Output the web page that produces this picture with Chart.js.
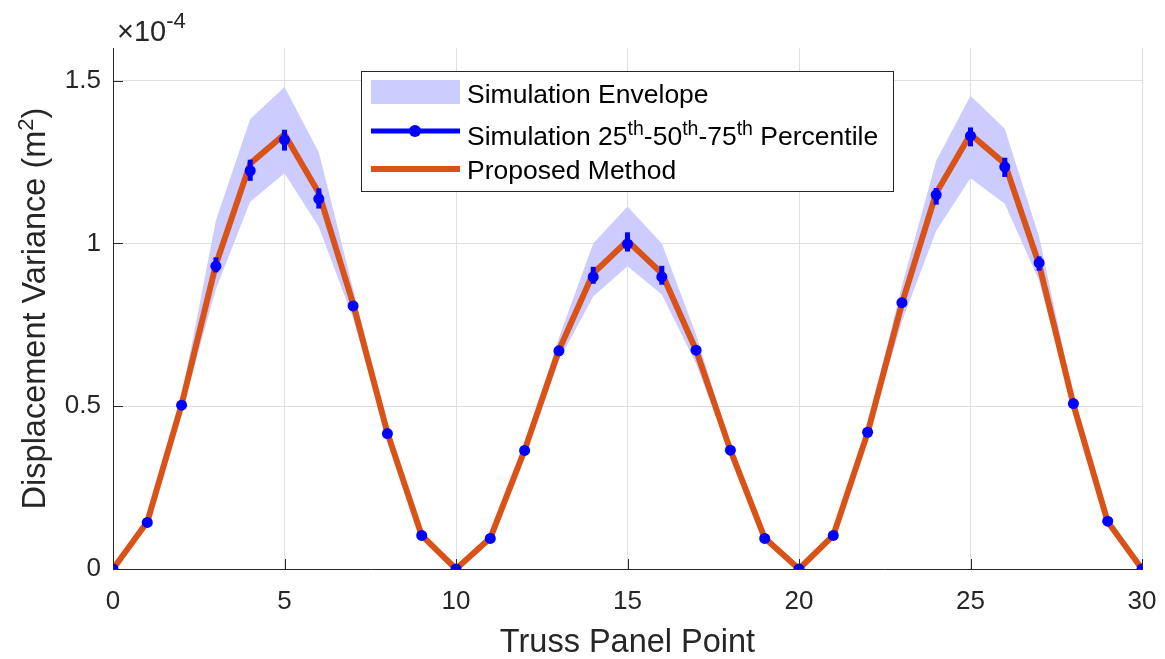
<!DOCTYPE html>
<html lang="en">
<head>
<meta charset="UTF-8">
<title>Displacement Variance</title>
<script src="https://cdn.jsdelivr.net/npm/chart.js"></script>
<style>
    body { margin: 0; background: #fff; }
    #wrap { width: 1165px; height: 659px; }
</style>
</head>
<body>
<div id="wrap"><canvas id="chart" width="1165" height="659"></canvas></div>
<script>
// all values in units of 1e-4 m^2
const panelPoints = [0, 1, 2, 3, 4, 5, 6, 7, 8, 9, 10, 11, 12, 13, 14, 15, 16, 17, 18, 19, 20, 21, 22, 23, 24, 25, 26, 27, 28, 29, 30];
const proposed = [0, 0.145, 0.505, 0.935, 1.245, 1.335, 1.155, 0.815, 0.418, 0.103, 0, 0.095, 0.365, 0.672, 0.908, 1.008, 0.908, 0.672, 0.365, 0.095, 0, 0.103, 0.418, 0.815, 1.155, 1.335, 1.245, 0.935, 0.505, 0.145, 0];
const simMedian = [0, 0.143, 0.503, 0.930, 1.223, 1.318, 1.137, 0.808, 0.416, 0.103, 0, 0.094, 0.364, 0.670, 0.897, 0.998, 0.897, 0.672, 0.365, 0.094, 0, 0.103, 0.420, 0.818, 1.149, 1.330, 1.235, 0.940, 0.508, 0.147, 0];
const simQ25 = [0, 0.135, 0.498, 0.911, 1.192, 1.285, 1.107, 0.795, 0.410, 0.100, 0, 0.091, 0.359, 0.660, 0.876, 0.975, 0.873, 0.660, 0.359, 0.091, 0, 0.100, 0.414, 0.806, 1.119, 1.298, 1.204, 0.916, 0.502, 0.142, 0];
const simQ75 = [0, 0.152, 0.508, 0.957, 1.257, 1.349, 1.169, 0.822, 0.422, 0.106, 0, 0.097, 0.369, 0.680, 0.928, 1.034, 0.931, 0.684, 0.369, 0.097, 0, 0.106, 0.426, 0.830, 1.170, 1.356, 1.263, 0.960, 0.514, 0.150, 0];
const envMin = [0, 0.13, 0.48, 0.86, 1.128, 1.215, 1.05, 0.77, 0.40, 0.098, 0, 0.09, 0.35, 0.64, 0.837, 0.93, 0.843, 0.63, 0.35, 0.09, 0, 0.098, 0.405, 0.76, 1.039, 1.20, 1.122, 0.885, 0.49, 0.14, 0];
const envMax = [0, 0.16, 0.53, 1.07, 1.382, 1.48, 1.28, 0.86, 0.435, 0.108, 0, 0.10, 0.38, 0.71, 1.0, 1.113, 1.0, 0.72, 0.38, 0.10, 0, 0.108, 0.44, 0.87, 1.254, 1.453, 1.352, 1.02, 0.53, 0.155, 0];
const xTicks = [0, 5, 10, 15, 20, 25, 30];
const yTicks = [0, 0.5, 1, 1.5];
const yTickLabels = ['0', '0.5', '1', '1.5'];

const FONT = "'Liberation Sans', Arial, Helvetica, sans-serif";
const AXIS = '#262626';
const ENV_FILL = 'rgb(204,204,255)';
const BLUE = '#0000FF';
const ORANGE = '#D95319';

function xy(arr) {
    return panelPoints.map((p, i) => ({ x: p, y: arr[i] }));
}

// text with superscript pieces: parts = [[text, isSup], ...]
function richWidth(ctx, parts, size, supSize) {
    let w = 0;
    parts.forEach(p => {
        ctx.font = (p[1] ? supSize : size) + 'px ' + FONT;
        w += ctx.measureText(p[0]).width;
    });
    return w;
}
function drawRich(ctx, parts, x, y, size, supSize, supRise) {
    let cx = x;
    ctx.textAlign = 'left';
    ctx.textBaseline = 'alphabetic';
    parts.forEach(p => {
        ctx.font = (p[1] ? supSize : size) + 'px ' + FONT;
        ctx.fillText(p[0], cx, p[1] ? y - supRise : y);
        cx += ctx.measureText(p[0]).width;
    });
}

const decor = {
    id: 'decor',
    afterDatasetsDraw(chart) {
        // error bars from 25th to 75th percentile
        const ctx = chart.ctx, xs = chart.scales.x, ys = chart.scales.y;
        ctx.save();
        ctx.strokeStyle = BLUE;
        ctx.lineWidth = 5;
        panelPoints.forEach((p, i) => {
            if (simQ75[i] - simQ25[i] <= 0) return;
            const px = xs.getPixelForValue(p);
            ctx.beginPath();
            ctx.moveTo(px, ys.getPixelForValue(simQ25[i]));
            ctx.lineTo(px, ys.getPixelForValue(simQ75[i]));
            ctx.stroke();
        });
        ctx.restore();
    },
    afterDraw(chart) {
        const ctx = chart.ctx, xs = chart.scales.x, ys = chart.scales.y;
        const a = chart.chartArea;
        ctx.save();
        // inward ticks
        ctx.strokeStyle = AXIS;
        ctx.lineWidth = 1;
        ctx.beginPath();
        xTicks.forEach(v => {
            const px = Math.round(xs.getPixelForValue(v)) + 0.5;
            ctx.moveTo(px, a.bottom);
            ctx.lineTo(px, a.bottom - 10);
        });
        yTicks.forEach(v => {
            const py = Math.round(ys.getPixelForValue(v)) + 0.5;
            ctx.moveTo(a.left, py);
            ctx.lineTo(a.left + 10, py);
        });
        ctx.stroke();

        ctx.fillStyle = AXIS;
        // x axis title
        ctx.font = '32.5px ' + FONT;
        ctx.textAlign = 'center';
        ctx.textBaseline = 'alphabetic';
        ctx.fillText('Truss Panel Point', (a.left + a.right) / 2, 652);

        // y axis title, rotated
        const yParts = [['Displacement Variance (m', false], ['2', true], [')', false]];
        ctx.save();
        ctx.translate(45, (a.top + a.bottom) / 2);
        ctx.rotate(-Math.PI / 2);
        const yw = richWidth(ctx, yParts, 32.5, 22);
        drawRich(ctx, yParts, -yw / 2, 0, 32.5, 22, 12);
        ctx.restore();

        // exponent label
        drawRich(ctx, [['\u00D7', false], ['10', false], ['-4', true]], 117, 41, 29, 22, 13);

        // legend
        const bx = 361.5, by = 71.5, bw = 532, bh = 120;
        ctx.fillStyle = '#fff';
        ctx.fillRect(bx, by, bw, bh);
        ctx.strokeStyle = AXIS;
        ctx.lineWidth = 1;
        ctx.strokeRect(bx, by, bw, bh);

        ctx.fillStyle = ENV_FILL;
        ctx.fillRect(371, 80, 89, 24);

        ctx.strokeStyle = BLUE;
        ctx.lineWidth = 5;
        ctx.beginPath();
        ctx.moveTo(371, 131);
        ctx.lineTo(460, 131);
        ctx.stroke();
        ctx.fillStyle = BLUE;
        ctx.beginPath();
        ctx.arc(415, 131, 6, 0, Math.PI * 2);
        ctx.fill();

        ctx.strokeStyle = ORANGE;
        ctx.lineWidth = 6;
        ctx.beginPath();
        ctx.moveTo(371, 169);
        ctx.lineTo(460, 169);
        ctx.stroke();

        ctx.fillStyle = '#000';
        drawRich(ctx, [['Simulation Envelope', false]], 467, 103, 26.5, 19, 10);
        drawRich(ctx, [['Simulation 25', false], ['th', true], ['-50', false], ['th', true], ['-75', false], ['th', true], [' Percentile', false]], 467, 145, 26.5, 19.5, 10);
        drawRich(ctx, [['Proposed Method', false]], 467, 179, 26.5, 19, 10);
        ctx.restore();
    }
};

new Chart(document.getElementById('chart'), {
    type: 'line',
    data: {
        datasets: [
            { label: 'envMax', data: xy(envMax), borderWidth: 0, pointRadius: 0, fill: false, order: 5 },
            { label: 'Simulation Envelope', data: xy(envMin), borderWidth: 0, pointRadius: 0,
              backgroundColor: ENV_FILL, fill: '-1', order: 4 },
            { label: 'Proposed Method', data: xy(proposed), borderColor: ORANGE, borderWidth: 6,
              pointRadius: 0, fill: false, tension: 0, borderJoinStyle: 'round', borderCapStyle: 'butt', order: 2 },
            { label: 'Simulation 25th-50th-75th Percentile', data: xy(simMedian), showLine: false,
              pointRadius: 5.5, pointBackgroundColor: BLUE, pointBorderWidth: 0, pointBorderColor: BLUE, order: 1 }
        ]
    },
    options: {
        responsive: false,
        animation: false,
        devicePixelRatio: 1,
        layout: { padding: { top: 48, right: 23, left: 0, bottom: 0 } },
        plugins: { legend: { display: false }, tooltip: { enabled: false } },
        scales: {
            x: {
                type: 'linear', min: 0, max: 30,
                afterFit: s => { s.height = 90; s.paddingLeft = 0; s.paddingRight = 0; },
                afterBuildTicks: s => { s.ticks = xTicks.map(v => ({ value: v })); },
                grid: { color: '#dfdfdf', lineWidth: 1, drawTicks: false },
                border: { display: true, color: AXIS, width: 1 },
                ticks: { padding: 17, color: AXIS, font: { family: FONT, size: 26 }, maxRotation: 0,
                         callback: v => String(v) }
            },
            y: {
                type: 'linear', min: 0, max: 1.6,
                afterFit: s => { s.width = 113; s.paddingTop = 0; s.paddingBottom = 0; },
                afterBuildTicks: s => { s.ticks = yTicks.map(v => ({ value: v })); },
                grid: { color: '#dfdfdf', lineWidth: 1, drawTicks: false },
                border: { display: true, color: AXIS, width: 1 },
                ticks: { padding: 12, color: AXIS, font: { family: FONT, size: 26 },
                         callback: v => yTickLabels[yTicks.indexOf(v)] }
            }
        }
    },
    plugins: [decor]
});
</script>
</body>
</html>
